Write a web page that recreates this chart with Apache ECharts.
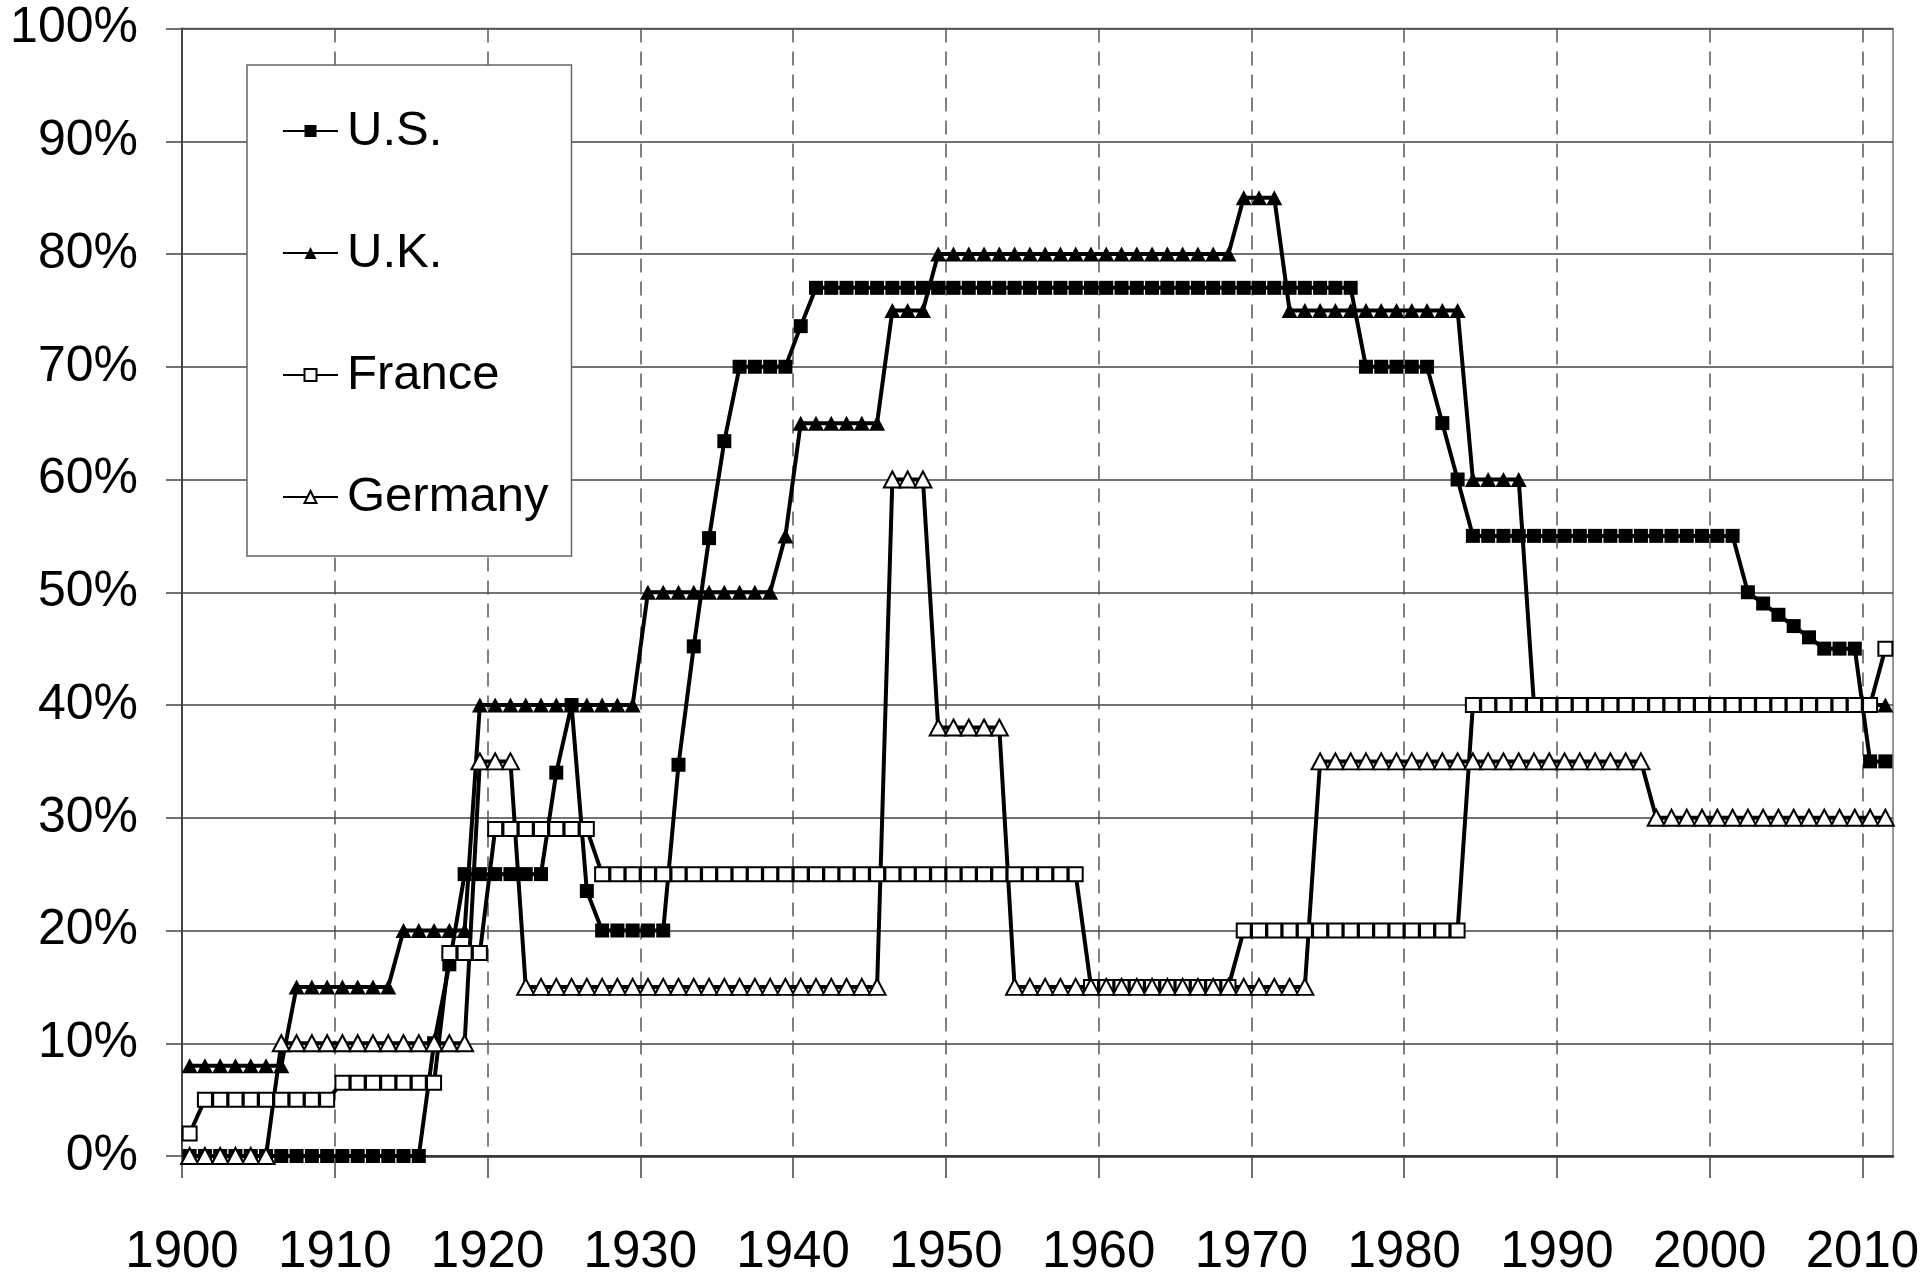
<!DOCTYPE html>
<html>
<head>
<meta charset="utf-8">
<script src="https://cdn.jsdelivr.net/npm/echarts@6/dist/echarts.min.js"></script>
<style>
html,body{margin:0;padding:0;background:#fff;}
#chart{width:1920px;height:1282px;}
</style>
</head>
<body>
<div id="chart"></div>
<script>
// Years 1900..2011 (category positions)
var years = [];
for (var y = 1900; y <= 2011; y++) years.push(y);

// Decade tick labels
var tickYears = [1900, 1910, 1920, 1930, 1940, 1950, 1960, 1970, 1980, 1990, 2000, 2010];
var yTicks = [0, 10, 20, 30, 40, 50, 60, 70, 80, 90, 100];

var seriesNames = ['U.S.', 'U.K.', 'France', 'Germany'];

// Top inheritance tax rates (%), one value per year 1900..2011
var usValues = [
  0,0,0,0,0,0,0,0,0,0,
  0,0,0,0,0,0,10,17,25,25,
  25,25,25,25,34,40,23.5,20,20,20,
  20,20,34.7,45.2,54.8,63.4,70,70,70,70,
  73.6,77,77,77,77,77,77,77,77,77,
  77,77,77,77,77,77,77,77,77,77,
  77,77,77,77,77,77,77,77,77,77,
  77,77,77,77,77,77,77,70,70,70,
  70,70,65,60,55,55,55,55,55,55,
  55,55,55,55,55,55,55,55,55,55,
  55,55,50,49,48,47,46,45,45,45,
  35,35
];
var ukValues = [
  8,8,8,8,8,8,8,15,15,15,
  15,15,15,15,20,20,20,20,20,40,
  40,40,40,40,40,40,40,40,40,40,
  50,50,50,50,50,50,50,50,50,55,
  65,65,65,65,65,65,75,75,75,80,
  80,80,80,80,80,80,80,80,80,80,
  80,80,80,80,80,80,80,80,80,85,
  85,85,75,75,75,75,75,75,75,75,
  75,75,75,75,60,60,60,60,40,40,
  40,40,40,40,40,40,40,40,40,40,
  40,40,40,40,40,40,40,40,40,40,
  40,40
];
var franceValues = [
  2,5,5,5,5,5,5,5,5,5,
  6.5,6.5,6.5,6.5,6.5,6.5,6.5,18,18,18,
  29,29,29,29,29,29,29,25,25,25,
  25,25,25,25,25,25,25,25,25,25,
  25,25,25,25,25,25,25,25,25,25,
  25,25,25,25,25,25,25,25,25,15,
  15,15,15,15,15,15,15,15,15,20,
  20,20,20,20,20,20,20,20,20,20,
  20,20,20,20,40,40,40,40,40,40,
  40,40,40,40,40,40,40,40,40,40,
  40,40,40,40,40,40,40,40,40,40,
  40,45
];
var germanyValues = [
  0,0,0,0,0,0,10,10,10,10,
  10,10,10,10,10,10,10,10,10,35,
  35,35,15,15,15,15,15,15,15,15,
  15,15,15,15,15,15,15,15,15,15,
  15,15,15,15,15,15,60,60,60,38,
  38,38,38,38,15,15,15,15,15,15,
  15,15,15,15,15,15,15,15,15,15,
  15,15,15,15,35,35,35,35,35,35,
  35,35,35,35,35,35,35,35,35,35,
  35,35,35,35,35,35,30,30,30,30,
  30,30,30,30,30,30,30,30,30,30,
  30,30
];

function pairs(vals) {
  return years.map(function (yr, i) { return [yr, vals[i]]; });
}

var FONT = "'Liberation Sans', Arial, sans-serif";
// category boundaries: gridlines sit half a year before each decade year
var boundaryTicks = tickYears.map(function (t) { return t - 0.5; });

var chart = echarts.init(document.getElementById('chart'), null, {renderer: 'canvas'});

function lineSeries(name, vals, symbol, size, fill, borderW) {
  return {
    name: name,
    type: 'line',
    data: pairs(vals),
    symbol: symbol,
    symbolSize: size,
    showAllSymbol: true,
    showSymbol: true,
    lineStyle: {color: '#000', width: 4},
    itemStyle: {color: fill, borderColor: '#000', borderWidth: borderW},
    emphasis: {disabled: true}
  };
}

chart.setOption({
  animation: false,
  backgroundColor: '#fff',
  grid: {
    left: 182, right: 27, top: 28.5, bottom: 126,
    outerBoundsMode: 'none', containLabel: false,
    show: true, borderColor: '#777', borderWidth: 1.5, backgroundColor: 'transparent'
  },
  legend: {
    orient: 'vertical',
    left: 247, top: 65,
    padding: [38, 23, 31, 35],
    itemWidth: 55, itemHeight: 15, itemGap: 66,
    backgroundColor: '#fff', borderColor: '#666', borderWidth: 1.5,
    textStyle: {fontFamily: FONT, fontSize: 49, lineHeight: 56, color: '#000', padding: [0, 0, 0, 4]},
    data: seriesNames
  },
  xAxis: {
    type: 'value',
    min: 1899.5, max: 2011.5,
    axisLine: {show: true, lineStyle: {color: '#333', width: 2.5}},
    axisTick: {show: true, inside: false, length: 22, customValues: boundaryTicks, lineStyle: {color: '#444', width: 1.5}},
    axisLabel: {
      show: true, customValues: boundaryTicks, margin: 71,
      fontFamily: FONT, fontSize: 51, lineHeight: 51, color: '#000',
      formatter: function (v) { return String(Math.round(v + 0.5)); }
    },
    splitLine: {show: true, lineStyle: {color: '#555', width: 1.5, type: [14, 9]}}
  },
  yAxis: {
    type: 'value',
    min: 0, max: 100, interval: 10,
    axisLine: {show: true, lineStyle: {color: '#444', width: 2}},
    axisTick: {show: true, inside: false, length: 16, lineStyle: {color: '#444', width: 1.5}},
    axisLabel: {
      margin: 44, fontFamily: FONT, fontSize: 50, color: '#000',
      formatter: '{value}%'
    },
    splitLine: {show: true, lineStyle: {color: '#444', width: 1.5}}
  },
  series: [
    lineSeries(seriesNames[0], usValues, 'rect', 14, '#000', 0),
    lineSeries(seriesNames[1], ukValues, 'triangle', [16, 15], '#000', 0),
    lineSeries(seriesNames[2], franceValues, 'rect', 14, '#fff', 2),
    lineSeries(seriesNames[3], germanyValues, 'triangle', [17, 16], '#fff', 2)
  ]
});
</script>
</body>
</html>
